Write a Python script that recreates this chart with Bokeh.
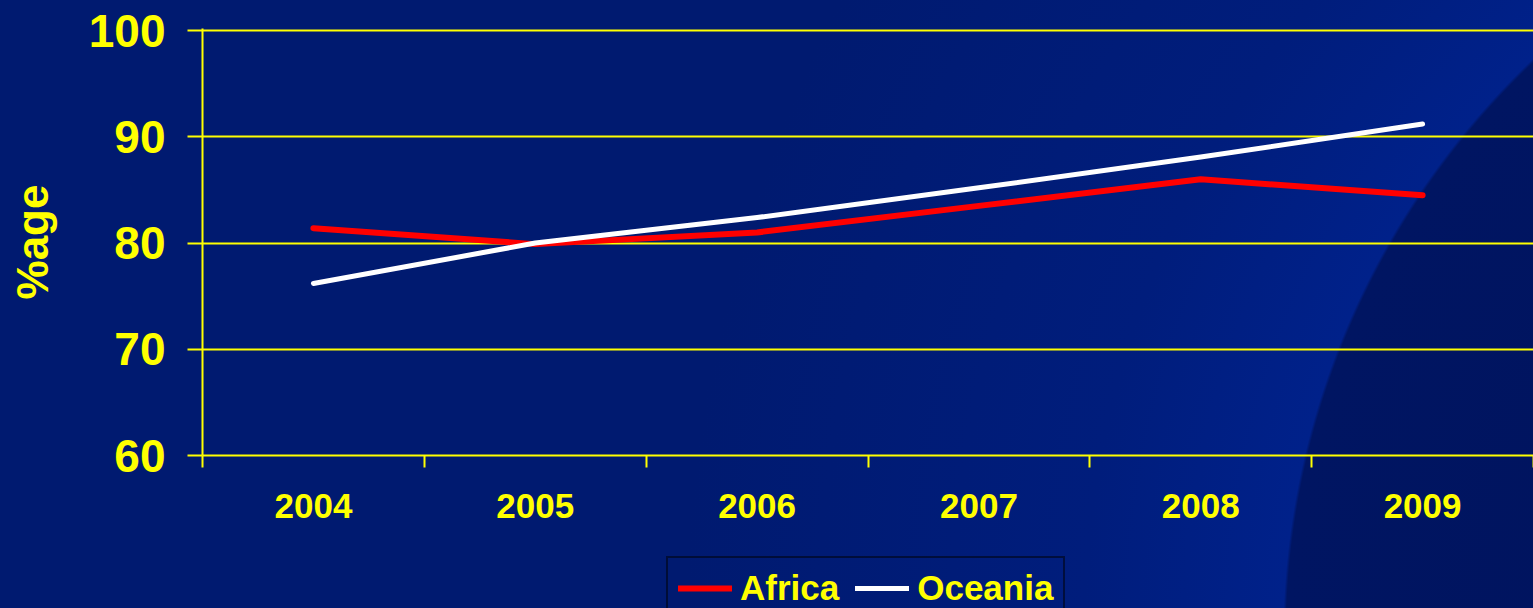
from bokeh.plotting import figure
from bokeh.layouts import column
from bokeh.models import FixedTicker, Legend, LegendItem
from bokeh.embed import file_html
from bokeh.resources import INLINE

# Data
years = ["2004", "2005", "2006", "2007", "2008", "2009"]
africa = [81.4, 79.9, 81.0, 83.5, 86.0, 84.5]
oceania = [76.2, 80.0, 82.4, 85.2, 88.1, 91.2]
y_ticks = [60, 70, 80, 90, 100]

# each year sits in the middle of its category slot
xs = [i + 0.5 for i in range(len(years))]
slot_edges = list(range(len(years) + 1))

YELLOW = "#ffff00"
RED = "#ff0000"
WHITE = "#ffffff"
FONT = "Liberation Sans"

# ---- main chart -------------------------------------------------------
p = figure(
    width=1533, height=540,
    x_range=(0, len(years)), y_range=(y_ticks[0], y_ticks[-1] + 0.2),
    output_backend="svg", toolbar_location=None,
    min_border_left=202, min_border_top=28,
    min_border_right=0, min_border_bottom=85,
)
p.background_fill_alpha = 0
p.border_fill_alpha = 0
p.outline_line_color = None

# x axis: labels at slot centres, tick marks at slot boundaries
xax = p.xaxis[0]
xax.ticker = FixedTicker(ticks=xs, minor_ticks=slot_edges)
xax.major_label_overrides = {x: y for x, y in zip(xs, years)}
xax.major_tick_out = 0
xax.major_tick_in = 0
xax.minor_tick_out = 12
xax.minor_tick_in = 0
xax.minor_tick_line_color = YELLOW
xax.minor_tick_line_width = 2
xax.axis_line_color = YELLOW
xax.axis_line_width = 2
xax.major_label_text_font = FONT
xax.major_label_text_font_style = "bold"
xax.major_label_text_font_size = "35px"
xax.major_label_text_color = YELLOW
xax.major_label_standoff = 26

# y axis
yax = p.yaxis[0]
yax.ticker = FixedTicker(ticks=y_ticks, minor_ticks=[])
yax.major_tick_out = 15
yax.major_tick_in = 0
yax.major_tick_line_color = YELLOW
yax.major_tick_line_width = 2
yax.axis_line_color = YELLOW
yax.axis_line_width = 2
yax.major_label_text_font = FONT
yax.major_label_text_font_style = "bold"
yax.major_label_text_font_size = "46px"
yax.major_label_text_color = YELLOW
yax.major_label_standoff = 22
yax.axis_label = "%age"
yax.axis_label_text_font = FONT
yax.axis_label_text_font_style = "bold"
yax.axis_label_text_font_size = "44px"
yax.axis_label_text_color = YELLOW
yax.axis_label_standoff = 29

p.xgrid.visible = False
p.ygrid.grid_line_color = YELLOW
p.ygrid.grid_line_width = 2

p.line(xs, africa, line_color=RED, line_width=6, line_cap="round", line_join="round")
p.line(xs, oceania, line_color=WHITE, line_width=5, line_cap="round", line_join="round")

# ---- legend strip under the chart ------------------------------------
# The key lines reuse the series but fall outside this strip's ranges,
# so only their legend swatches show.
lg = figure(
    width=1533, height=68, x_range=(0, 1), y_range=(0, 1),
    output_backend="svg", toolbar_location=None,
    min_border_left=202, min_border_right=0,
    min_border_top=0, min_border_bottom=0,
)
lg.background_fill_alpha = 0
lg.border_fill_alpha = 0
lg.outline_line_color = None
lg.axis.visible = False
lg.grid.visible = False
key_af = lg.line(xs, africa, line_color=RED, line_width=6, line_cap="round")
key_oc = lg.line(xs, oceania, line_color=WHITE, line_width=5, line_cap="round")

legend = Legend(
    items=[LegendItem(label="Africa", renderers=[key_af]),
           LegendItem(label="Oceania", renderers=[key_oc])],
    orientation="horizontal", location=(464, -12),
    label_text_font=FONT, label_text_font_style="bold",
    label_text_font_size="35px", label_text_color=YELLOW,
    glyph_width=54, label_standoff=8, spacing=16, padding=10, margin=0,
    border_line_color="#000000", border_line_width=2,
    background_fill_alpha=0,
)
lg.add_layout(legend, "center")

page = column(p, lg, spacing=0)
page.styles = {
    "background-color": "#011a6e",
    "background-image": (
        "radial-gradient(circle at 2084px 640px, #00125a 0px, #001562 798px, "
        "#00218a 801px, #001d7c 1000px, #001a70 1400px)"
    ),
}

open("out.html", "w").write(file_html(page, INLINE))
